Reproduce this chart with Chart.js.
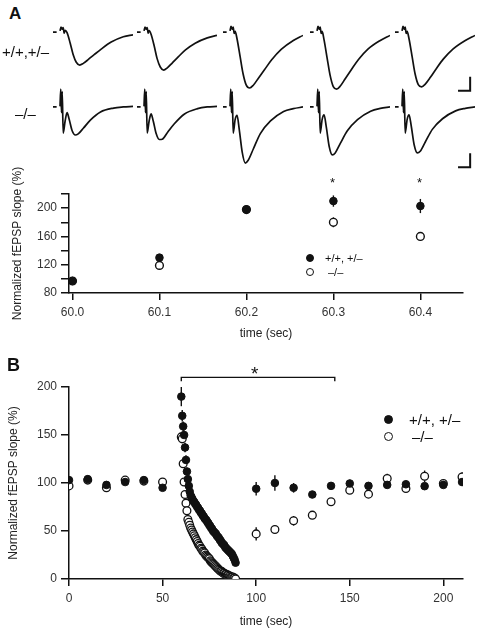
<!DOCTYPE html>
<html>
<head>
<meta charset="utf-8">
<title>fEPSP slope during train</title>
<script src="https://cdn.jsdelivr.net/npm/chart.js@4.4.1/dist/chart.umd.min.js"></script>
<style>
  html, body { margin: 0; padding: 0; background: #fff; }
  #fig { position: relative; width: 479px; height: 631px; overflow: hidden;
         font-family: 'Liberation Sans', Arial, Helvetica, sans-serif; color: #111; }
  #fig canvas { position: absolute; }
  .lbl { position: absolute; white-space: nowrap; line-height: 1; z-index: 2; }
  .dot { position: absolute; border-radius: 50%; box-sizing: border-box;
         border: 1.3px solid #111; z-index: 2; }
  .filled { background: #111; }
  .open { background: #fff; }
</style>
</head>
<body>
<div id="fig">
  <canvas id="chartA" width="479" height="185" style="left:0;top:160px"></canvas>
  <canvas id="chartB" width="479" height="271" style="left:0;top:360px"></canvas>

  <div class="lbl" style="left:9px;top:5px;font-size:17px;font-weight:bold">A</div>
  <div class="lbl" style="left:2px;top:44px;font-size:15px">+/+,+/–</div>
  <div class="lbl" style="left:15px;top:106px;font-size:15px">–/–</div>
  <div class="lbl" style="left:330px;top:176px;font-size:13px">*</div>
  <div class="lbl" style="left:417px;top:176px;font-size:13px">*</div>

  <div class="dot filled" style="left:306px;top:254px;width:8px;height:8px"></div>
  <div class="lbl" style="left:325px;top:253px;font-size:11px">+/+, +/–</div>
  <div class="dot open" style="left:306px;top:268px;width:8px;height:8px"></div>
  <div class="lbl" style="left:328px;top:267px;font-size:11px">–/–</div>

  <div class="lbl" style="left:7px;top:356px;font-size:18px;font-weight:bold">B</div>
  <div class="lbl" style="left:251px;top:364px;font-size:19px">*</div>

  <div class="dot filled" style="left:384px;top:415px;width:9px;height:9px"></div>
  <div class="lbl" style="left:409px;top:412px;font-size:15px">+/+, +/–</div>
  <div class="dot open" style="left:384px;top:432px;width:9px;height:9px"></div>
  <div class="lbl" style="left:412px;top:429px;font-size:15px">–/–</div>
</div>

<script>
// ---------- panel A traces: sweeps at 60.0 .. 60.4 s (mV vs ms) ----------
var traceEndMs = 33;
var scaleBarMs = 5;
var scaleBarMv = 0.5;

var wtTraceT = [0, 1.5, 2.0, 2.9, 3.3, 3.8, 4.2, 4.6, 5.0, 5.8, 7.1, 8.3, 9.6, 11.0, 12.5, 14.6, 17.1, 20, 24, 29, 33];
var wtTrace1 = [0, 0, null, 0.04, 0.18, 0.1, 0.16, -0.04, 0.06, -0.02, -0.4, -0.8, -1.08, -1.18, -1.12, -0.98, -0.8, -0.6, -0.36, -0.17, -0.1];
var wtTrace2 = [0, 0, null, 0.04, 0.18, 0.1, 0.16, -0.04, 0.05, -0.08, -0.5, -0.95, -1.25, -1.36, -1.28, -1.1, -0.88, -0.64, -0.4, -0.21, -0.12];
var wtTrace3 = [0, 0, null, 0.04, 0.2, 0.1, 0.18, -0.05, 0.02, -0.25, -0.9, -1.5, -1.9, -2.0, -1.9, -1.65, -1.35, -1.0, -0.62, -0.3, -0.12];
var wtTrace4 = [0, 0, null, 0.04, 0.2, 0.1, 0.18, -0.05, 0.02, -0.28, -0.95, -1.55, -1.95, -2.04, -1.93, -1.66, -1.34, -0.98, -0.6, -0.3, -0.12];
var wtTrace5 = [0, 0, null, 0.04, 0.2, 0.1, 0.18, -0.05, 0.02, -0.25, -0.9, -1.5, -1.88, -1.96, -1.86, -1.62, -1.3, -0.96, -0.6, -0.3, -0.12];

var koTraceT = [0, 1.5, 1.9, 2.9, 3.2, 3.5, 3.8, 4.2, 5.0, 5.8, 6.7, 7.9, 9.2, 10.4, 12.5, 15.4, 19.6, 25, 29, 33];
var koTrace1 = [0, 0, null, 0.02, 0.64, -0.2, 0.55, -0.93, -0.5, -0.2, -0.45, -0.85, -1.0, -0.96, -0.76, -0.47, -0.18, -0.04, 0, 0.02];
var koTrace2 = [0, 0, null, 0.02, 0.64, -0.2, 0.55, -0.93, -0.5, -0.25, -0.5, -0.95, -1.16, -1.15, -0.92, -0.6, -0.25, -0.06, 0, 0.02];
var koTrace3 = [0, 0, null, 0.02, 0.64, -0.2, 0.55, -0.93, -0.45, -0.3, -0.8, -1.6, -2.0, -1.9, -1.5, -0.95, -0.5, -0.16, -0.06, 0];
var koTrace4 = [0, 0, null, 0.02, 0.64, -0.2, 0.55, -0.93, -0.45, -0.28, -0.7, -1.4, -1.71, -1.64, -1.3, -0.85, -0.45, -0.15, -0.05, 0];
var koTrace5 = [0, 0, null, 0.02, 0.64, -0.2, 0.55, -0.93, -0.45, -0.28, -0.68, -1.35, -1.64, -1.58, -1.25, -0.8, -0.42, -0.14, -0.05, 0];

// ---------- panel A summary: first pulses of the train ----------
var pulseT = [60.0, 60.1, 60.2, 60.3, 60.4];
var wtPulse = [97, 130, 198, 210, 203];
var wtPulseErr = [2, 3, 5, 8, 10];
var koPulse = [97, 119, 198, 180, 160];
var koPulseErr = [2, 6, 4, 7, 6];
var pulseXTicks = [60.0, 60.1, 60.2, 60.3, 60.4];
var pulseYTicks = [80, 100, 120, 140, 160, 180, 200, 220];
var pulseYLabels = [80, 120, 160, 200];

// ---------- panel B: whole experiment ----------
var baseT = [0, 10, 20, 30, 40, 50];
var wtBase = [103, 104, 98, 101, 103, 95];
var wtBaseErr = [2, 2, 2, 2, 2, 3];
var koBase = [97, 103, 95, 103, 102, 101];
var koBaseErr = [2, 2, 2, 2, 2, 2];

var decayT = [60, 60.5, 61, 61.5, 62, 62.5, 63, 63.5, 64, 64.5, 65, 65.5, 66, 66.5, 67, 67.5, 68, 68.5, 69, 69.5,
  70, 70.5, 71, 71.5, 72, 72.5, 73, 73.5, 74, 74.5, 75, 75.5, 76, 76.5, 77, 77.5, 78, 78.5, 79, 79.5,
  80, 80.5, 81, 81.5, 82, 82.5, 83, 83.5, 84, 84.5, 85, 85.5, 86, 86.5, 87, 87.5, 88, 88.5, 89];
var wtDecay = [190, 170, 159, 150, 137, 124, 112, 104, 97, 91, 87, 85, 83, 81, 80, 78, 77, 75, 74, 72,
  71, 69, 68, 66, 65, 63, 62, 61, 59, 58, 56, 55, 53, 52, 50, 49, 48, 47, 45, 44,
  43, 41, 40, 38, 37, 36, 35, 33, 32, 31, 30, 29, 28, 27, 26, 24, 22, 20, 17];
var wtDecayErr = [10, 6, 5, 5, 5, 5, 4, 4];
var koDecay = [148, 146, 120, 101, 88, 79, 71, 62, 59, 56, 53, 51, 49, 47, 45, 43, 41, 39, 37, 35,
  34, 32, 31, 29, 28, 27, 25, 24, 23, 22, 21, 19, 18, 17, 16, 15, 14, 13, 12, 11,
  10, 9, 8, 8, 7, 6, 6, 5, 5, 4, 4, 3, 3, 2, 2, 2, 1, 1, 0];
var koDecayErr = [4, 4, 3, 3, 3, 2, 2, 2];

var recT = [100, 110, 120, 130, 140, 150, 160, 170, 180, 190, 200, 210];
var wtRec = [94, 100, 95, 88, 97, 99.5, 97, 98, 98.7, 96.7, 98, 101];
var wtRecErr = [7, 8, 5, 2, 3, 4, 2, 2, 2, 2, 2, 4];
var koRec = [47, 51.6, 60.6, 66.5, 80.4, 92.5, 88.4, 104.7, 94.3, 107, 99.5, 106.3];
var koRecErr = [7, 4, 5, 2, 3, 3, 2, 5, 2, 6, 3, 5];

var trainXTicks = [0, 50, 100, 150, 200];
var trainYTicks = [0, 50, 100, 150, 200];
var sigSpan = [60, 142];
var sigLevel = 210;
var sigDrop = 4;

// ---------- helpers ----------
var ink = '#111';
var fontFamily = "'Liberation Sans', Arial, Helvetica, sans-serif";

function pts(ts, vs, es) {
  return ts.map(function (t, i) {
    return { x: t, y: vs[i], e: es ? es[i] : null };
  });
}

var errorBars = {
  id: 'errorBars',
  beforeDatasetsDraw: function (chart) {
    var ctx = chart.ctx;
    var xs = chart.scales.x;
    var ys = chart.scales.y;
    ctx.save();
    ctx.strokeStyle = ink;
    ctx.lineWidth = 1.4;
    chart.data.datasets.forEach(function (ds) {
      ds.data.forEach(function (p) {
        if (p.e == null || p.y == null) return;
        var x = xs.getPixelForValue(p.x);
        ctx.beginPath();
        ctx.moveTo(x, ys.getPixelForValue(p.y - p.e));
        ctx.lineTo(x, ys.getPixelForValue(p.y + p.e));
        ctx.stroke();
      });
    });
    ctx.restore();
  }
};

function makeTrace(left, top, height, times, values, yMin, yMax, bar) {
  var cv = document.createElement('canvas');
  cv.width = 80;
  cv.height = height;
  cv.style.left = left + 'px';
  cv.style.top = top + 'px';
  document.getElementById('fig').appendChild(cv);

  var datasets = [{
    data: times.map(function (t, i) { return { x: t, y: values[i] }; }),
    borderColor: ink,
    borderWidth: 1.7,
    pointRadius: 0,
    cubicInterpolationMode: 'monotone',
    spanGaps: false,
    clip: false
  }];
  if (bar) {
    datasets.push({
      data: bar,
      borderColor: ink,
      borderWidth: 2,
      pointRadius: 0,
      tension: 0,
      clip: false
    });
  }

  new Chart(cv, {
    type: 'line',
    data: { datasets: datasets },
    options: {
      responsive: false,
      animation: false,
      events: [],
      layout: { padding: 0 },
      plugins: { legend: { display: false }, tooltip: { enabled: false } },
      scales: {
        x: { type: 'linear', display: false, min: 0, max: traceEndMs },
        y: { display: false, min: yMin, max: yMax }
      }
    }
  });
}

function scaleBar(t0, v0) {
  return [
    { x: t0, y: v0 },
    { x: t0 + scaleBarMs, y: v0 },
    { x: t0 + scaleBarMs, y: v0 + scaleBarMv }
  ];
}

function axis(min, max, tickList, fmt, titleText, titlePad, isY) {
  return {
    type: 'linear',
    min: min,
    max: max,
    afterBuildTicks: function (s) {
      s.ticks = tickList.map(function (v) { return { value: v }; });
    },
    afterFit: function (s) {
      if (isY) s.width = 69; else s.height = 52;
    },
    ticks: {
      autoSkip: false,
      maxRotation: 0,
      padding: isY ? 4 : 5,
      color: '#333',
      font: { family: fontFamily, size: 12 },
      callback: fmt
    },
    grid: {
      drawOnChartArea: false,
      color: ink,
      lineWidth: 1.5,
      tickLength: isY ? 8 : 7
    },
    border: { color: ink, width: 1.5 },
    title: {
      display: true,
      text: titleText,
      color: '#222',
      font: { family: fontFamily, size: 12 },
      padding: titlePad
    }
  };
}

// ---------- traces ----------
var colLeft = [53, 137, 223, 310, 395];
var wtTraces = [wtTrace1, wtTrace2, wtTrace3, wtTrace4, wtTrace5];
var koTraces = [koTrace1, koTrace2, koTrace3, koTrace4, koTrace5];

for (var c = 0; c < 5; c++) {
  makeTrace(colLeft[c], 20, 75, wtTraceT, wtTraces[c], -2.25, 0.43,
    c === 4 ? scaleBar(26, -2.1) : null);
  makeTrace(colLeft[c], 82, 90, koTraceT, koTraces[c], -2.32, 0.89,
    c === 4 ? scaleBar(26, -2.15) : null);
}

// ---------- panel A summary ----------
new Chart(document.getElementById('chartA'), {
  type: 'scatter',
  data: {
    datasets: [
      {
        label: '+/+, +/–',
        data: pts(pulseT, wtPulse, wtPulseErr),
        pointRadius: 3.8,
        pointBackgroundColor: ink,
        pointBorderColor: ink,
        pointBorderWidth: 1
      },
      {
        label: '–/–',
        data: pts(pulseT, koPulse, koPulseErr),
        pointRadius: 3.9,
        pointBackgroundColor: '#fff',
        pointBorderColor: ink,
        pointBorderWidth: 1.4
      }
    ]
  },
  options: {
    responsive: false,
    animation: false,
    events: [],
    layout: { padding: { top: 34, right: 16, left: 0, bottom: 0 } },
    plugins: { legend: { display: false }, tooltip: { enabled: false } },
    scales: {
      x: axis(59.996, 60.449, pulseXTicks, function (v) { return Number(v).toFixed(1); },
        'time (sec)', { top: 0, bottom: 4 }, false),
      y: axis(80, 220, pulseYTicks, function (v) {
        return pulseYLabels.indexOf(v) >= 0 ? String(v) : '';
      }, 'Normalized fEPSP slope (%)', { top: 10, bottom: 0 }, true)
    }
  },
  plugins: [errorBars]
});

// ---------- panel B ----------
var wtAll = pts(baseT, wtBase, wtBaseErr).concat(pts(decayT, wtDecay, wtDecayErr), pts(recT, wtRec, wtRecErr));
var koAll = pts(baseT, koBase, koBaseErr).concat(pts(decayT, koDecay, koDecayErr), pts(recT, koRec, koRecErr));

new Chart(document.getElementById('chartB'), {
  type: 'scatter',
  data: {
    datasets: [
      {
        label: '+/+, +/–',
        data: wtAll,
        pointRadius: 3.8,
        pointBackgroundColor: ink,
        pointBorderColor: ink,
        pointBorderWidth: 1
      },
      {
        label: '–/–',
        data: koAll,
        pointRadius: 3.9,
        pointBackgroundColor: '#fff',
        pointBorderColor: ink,
        pointBorderWidth: 1.3
      },
      {
        label: 'significance',
        data: [
          { x: sigSpan[0], y: sigLevel - sigDrop },
          { x: sigSpan[0], y: sigLevel },
          { x: sigSpan[1], y: sigLevel },
          { x: sigSpan[1], y: sigLevel - sigDrop }
        ],
        showLine: true,
        borderColor: ink,
        borderWidth: 1.4,
        pointRadius: 0,
        clip: false
      }
    ]
  },
  options: {
    responsive: false,
    animation: false,
    events: [],
    layout: { padding: { top: 27, right: 16, left: 0, bottom: 0 } },
    plugins: { legend: { display: false }, tooltip: { enabled: false } },
    scales: {
      x: axis(0, 210.5, trainXTicks, function (v) { return String(v); },
        'time (sec)', { top: 0, bottom: 2 }, false),
      y: axis(0, 200, trainYTicks, function (v) { return String(v); },
        'Normalized fEPSP slope (%)', { top: 6, bottom: 0 }, true)
    }
  },
  plugins: [errorBars]
});
</script>
</body>
</html>
